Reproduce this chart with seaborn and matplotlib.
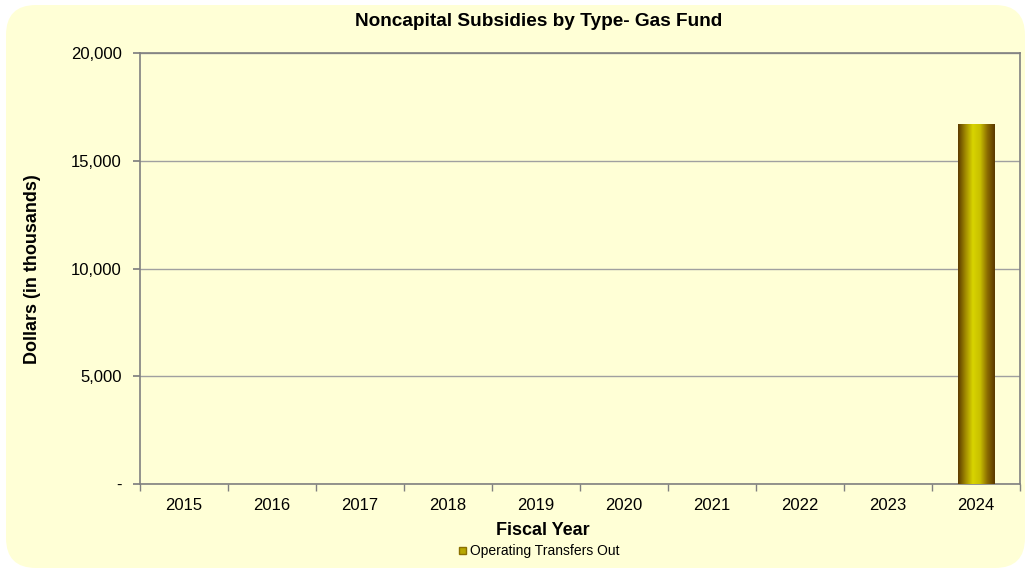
import matplotlib
matplotlib.use("Agg")
import matplotlib.pyplot as plt
import seaborn as sns
import numpy as np
import pandas as pd
from matplotlib.patches import FancyBboxPatch, Patch
from matplotlib.colors import LinearSegmentedColormap
from matplotlib.ticker import FuncFormatter, MultipleLocator

years = ["2015", "2016", "2017", "2018", "2019", "2020", "2021", "2022", "2023", "2024"]
transfers_out = [0, 0, 0, 0, 0, 0, 0, 0, 0, 16700]
series_name = "Operating Transfers Out"

sns.set_theme(style="white")
plt.rcParams['font.family'] = ['Liberation Sans', 'DejaVu Sans']
plt.rcParams['text.color'] = 'black'

bg = "#FFFFD6"
fig = plt.figure(figsize=(10.31, 5.73), dpi=100)
fig.patch.set_facecolor("white")
fig.patches.append(FancyBboxPatch((0.06, 0.05), 10.31 - 0.12, 5.73 - 0.1,
                                  boxstyle="round,pad=0,rounding_size=0.3",
                                  transform=fig.dpi_scale_trans, facecolor=bg,
                                  edgecolor="none", zorder=-10))

ax = fig.add_axes([0.1358, 0.1553, 0.8535, 0.7522])
ax.set_facecolor(bg)

df = pd.DataFrame({"Year": years, "Value": transfers_out})
sns.barplot(data=df, x="Year", y="Value", color="#C8C000", width=0.41, ax=ax,
            edgecolor="none", zorder=3)

# gradient fill for bars
cmap = LinearSegmentedColormap.from_list("g", ["#5C3A00", "#A08A00", "#D8D400", "#C8C000", "#8A6A00", "#5A3800"])
grad = np.linspace(0, 1, 256).reshape(1, -1)
for p in ax.patches:
    h = p.get_height()
    if h <= 0:
        continue
    x0 = p.get_x(); w = p.get_width()
    im = ax.imshow(grad, cmap=cmap, extent=[x0, x0 + w, 0, h], aspect="auto", zorder=4)
    im.set_clip_path(p)
    p.set_facecolor("none")

ax.set_xlim(-0.5, 9.5)
ax.set_ylim(0, 20000)
ax.yaxis.set_major_locator(MultipleLocator(5000))
ax.yaxis.set_major_formatter(FuncFormatter(lambda v, pos: "-" if v == 0 else f"{int(v):,}"))
ax.grid(axis="y", color="#A0A0A0", linewidth=1, zorder=0)
ax.set_axisbelow(True)

for s in ax.spines.values():
    s.set_color("#808080")
    s.set_linewidth(1.2)

ax.set_xticks(np.arange(10))
ax.set_xticks(np.arange(-0.5, 10, 1), minor=True)
ax.tick_params(axis="x", which="major", length=0, pad=10, labelsize=12, labelcolor="black")
ax.tick_params(axis="x", which="minor", length=5, color="#808080", direction="out", bottom=True)
ax.tick_params(axis="y", which="major", length=5, color="#808080", direction="out", left=True,
               labelsize=12, labelcolor="black", pad=8)

ax.set_xlabel("")
ax.set_ylabel("")
fig.text(0.5265, 0.075, "Fiscal Year", ha="center", va="center", fontsize=13, fontweight="bold", color="black")
fig.text(0.032, 0.53, "Dollars (in thousands)", ha="center", va="center", rotation=90,
         fontsize=13, fontweight="bold", color="black")
fig.text(0.5225, 0.962, "Noncapital Subsidies by Type- Gas Fund", ha="center", va="center",
         fontsize=13.7, fontweight="bold", color="black")

leg = fig.legend(handles=[Patch(facecolor="#B8A800", edgecolor="#8A7000", label=series_name)],
                 loc="center", bbox_to_anchor=(0.523, 0.038), frameon=False, fontsize=10,
                 handlelength=0.45, handleheight=0.45, handletextpad=0.3, labelcolor="black")

fig.savefig("out.png", dpi=100, facecolor=fig.get_facecolor())
